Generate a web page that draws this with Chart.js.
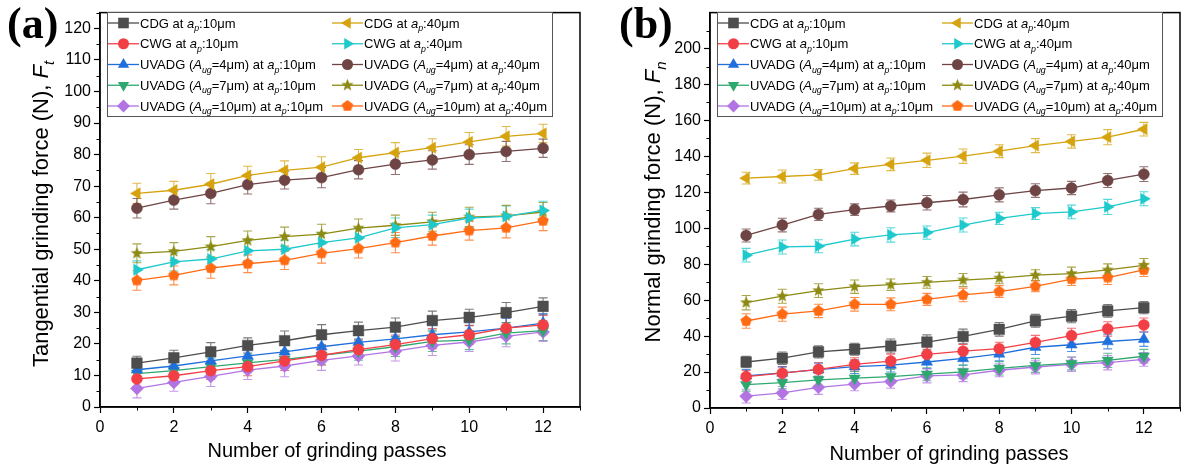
<!DOCTYPE html>
<html>
<head>
<meta charset="utf-8">
<script src="https://cdn.jsdelivr.net/npm/chart.js@4.4.1/dist/chart.umd.min.js"></script>
<style>
    body { margin: 0; background: #fff; width: 1201px; height: 468px; overflow: hidden; position: relative; }
    .panel { position: absolute; top: 0; height: 468px; }
    #wrapA { left: 0; width: 600px; }
    #wrapB { left: 600px; width: 601px; }
    .tag { position: absolute; top: -2px; font-family: "Liberation Serif", "Times New Roman", serif; font-weight: bold; font-size: 44px; line-height: 52px; }
</style>
</head>
<body>
<div class="panel" id="wrapA"><canvas id="chartA"></canvas></div>
<div class="panel" id="wrapB"><canvas id="chartB"></canvas></div>
<div class="tag" style="left:7px">(a)</div>
<div class="tag" style="left:619px">(b)</div>
<script>
// Grinding force vs number of passes

const FONT = '"Liberation Sans", Arial, sans-serif';

const passes = [1, 2, 3, 4, 5, 6, 7, 8, 9, 10, 11, 12];
const xTicks = [0, 2, 4, 6, 8, 10, 12];
const yTicksA = [0, 10, 20, 30, 40, 50, 60, 70, 80, 90, 100, 110, 120];
const yTicksB = [0, 20, 40, 60, 80, 100, 120, 140, 160, 180, 200];

// legend labels: [text, style]  style '' normal, 'i' italic, 's' italic subscript
const seriesLabels = [
    [['CDG at ', ''], ['a', 'i'], ['p', 's'], [':10\u03bcm', '']],
    [['CDG at ', ''], ['a', 'i'], ['p', 's'], [':40\u03bcm', '']],
    [['CWG at ', ''], ['a', 'i'], ['p', 's'], [':10\u03bcm', '']],
    [['CWG at ', ''], ['a', 'i'], ['p', 's'], [':40\u03bcm', '']],
    [['UVADG (', ''], ['A', 'i'], ['ug', 's'], ['=4\u03bcm) at ', ''], ['a', 'i'], ['p', 's'], [':10\u03bcm', '']],
    [['UVADG (', ''], ['A', 'i'], ['ug', 's'], ['=4\u03bcm) at ', ''], ['a', 'i'], ['p', 's'], [':40\u03bcm', '']],
    [['UVADG (', ''], ['A', 'i'], ['ug', 's'], ['=7\u03bcm) at ', ''], ['a', 'i'], ['p', 's'], [':10\u03bcm', '']],
    [['UVADG (', ''], ['A', 'i'], ['ug', 's'], ['=7\u03bcm) at ', ''], ['a', 'i'], ['p', 's'], [':40\u03bcm', '']],
    [['UVADG (', ''], ['A', 'i'], ['ug', 's'], ['=10\u03bcm) at ', ''], ['a', 'i'], ['p', 's'], [':10\u03bcm', '']],
    [['UVADG (', ''], ['A', 'i'], ['ug', 's'], ['=10\u03bcm) at ', ''], ['a', 'i'], ['p', 's'], [':40\u03bcm', '']]
];

const colors = ['#4d4d4d', '#d6a30f', '#f23f45', '#1ec9cc', '#1f6fdc', '#6e4444', '#2fa870', '#8c8a12', '#b274e2', '#ff6a12'];
const markers = ['rect', 'triangle', 'circle', 'triangle', 'triangle', 'circle', 'triangle', 'star', 'rectRot', 'pentagon'];
const rotations = [0, -90, 0, 90, 0, 0, 180, 0, 0, 0];
const radii = [7.5, 6.5, 5.5, 6.5, 6.5, 5.5, 6.5, 6.5, 6.5, 6];

// (a) tangential force, N
const tanCDG10 = [13.9, 15.6, 17.5, 19.5, 21.0, 22.9, 24.2, 25.3, 27.4, 28.4, 29.9, 31.9];
const tanCDG40 = [67.7, 68.7, 70.6, 73.4, 75.0, 76.0, 79.0, 80.6, 82.2, 84.0, 85.8, 86.7];
const tanCWG10 = [8.9, 9.9, 11.5, 12.8, 14.6, 16.4, 18.2, 19.8, 21.7, 22.9, 25.0, 26.0];
const tanCWG40 = [43.5, 46.0, 46.9, 49.5, 50.0, 52.1, 53.6, 56.8, 57.8, 59.9, 60.4, 62.3];
const tanU4_10 = [11.8, 13.0, 14.6, 16.2, 17.5, 19.1, 20.5, 21.6, 22.9, 23.8, 25.0, 26.6];
const tanU4_40 = [63.0, 65.6, 67.7, 70.5, 71.9, 72.7, 75.2, 77.0, 78.3, 80.0, 81.0, 82.0];
const tanU7_10 = [10.6, 11.5, 12.8, 14.0, 15.1, 16.4, 17.7, 19.1, 20.8, 21.2, 23.4, 24.2];
const tanU7_40 = [48.7, 49.3, 50.8, 52.8, 54.0, 54.8, 56.7, 57.6, 58.7, 60.2, 60.6, 61.8];
const tanU10_10 = [5.9, 7.8, 9.7, 11.7, 13.0, 14.8, 16.2, 17.7, 19.5, 20.6, 22.4, 23.8];
const tanU10_40 = [40.1, 41.7, 44.0, 45.4, 46.5, 48.7, 50.2, 52.1, 54.2, 55.9, 56.8, 59.0];

const tanErrCDG10 = [2.2, 2.4, 2.9, 2.4, 3.1, 3.2, 2.7, 2.9, 3.0, 2.6, 3.2, 2.7];
const tanErrCDG40 = [3.2, 2.8, 3.4, 2.9, 3.0, 3.3, 2.6, 3.2, 2.8, 3.0, 3.1, 2.9];
const tanErrCWG10 = [2.4, 2.6, 2.8, 2.9, 3.0, 3.1, 2.8, 3.0, 3.2, 3.0, 3.3, 3.1];
const tanErrCWG40 = [2.8, 2.9, 3.0, 3.1, 2.9, 3.2, 3.0, 3.1, 3.0, 2.8, 3.3, 2.9];
const tanErrU4_10 = [2.0, 2.2, 2.5, 2.6, 2.7, 2.8, 2.6, 2.8, 3.0, 2.9, 3.1, 3.0];
const tanErrU4_40 = [3.1, 2.9, 3.3, 3.0, 2.8, 3.2, 2.9, 3.3, 2.9, 3.1, 3.2, 2.9];
const tanErrU7_10 = [2.3, 2.5, 2.7, 2.8, 2.9, 3.0, 2.9, 3.1, 3.2, 3.0, 3.4, 3.1];
const tanErrU7_40 = [3.0, 2.8, 3.2, 3.0, 3.0, 3.1, 2.9, 3.2, 3.0, 3.1, 3.3, 3.0];
const tanErrU10_10 = [3.0, 2.8, 3.2, 3.0, 3.4, 3.2, 2.9, 3.1, 3.2, 3.0, 3.3, 3.0];
const tanErrU10_40 = [3.1, 3.0, 3.2, 2.8, 2.9, 3.1, 3.0, 3.2, 2.9, 3.0, 3.2, 3.1];

// (b) normal force, N
const norCDG10 = [25.6, 27.7, 31.2, 32.7, 34.5, 36.7, 39.8, 43.8, 48.5, 51.1, 54.0, 55.8];
const norCDG40 = [127.9, 128.8, 129.7, 133.2, 135.6, 137.8, 140.1, 142.9, 146.0, 148.3, 150.7, 155.1];
const norCWG10 = [17.5, 19.4, 21.5, 24.3, 26.1, 29.8, 31.6, 33.0, 36.5, 40.3, 44.0, 46.2];
const norCWG40 = [85.0, 89.6, 90.0, 94.0, 96.3, 97.6, 101.8, 105.5, 108.2, 109.1, 111.9, 116.4];
const norU4_10 = [17.9, 19.5, 21.3, 23.0, 23.9, 25.6, 27.6, 30.1, 33.8, 35.2, 37.0, 38.3];
const norU4_40 = [96.0, 101.8, 107.7, 110.4, 112.4, 114.2, 116.0, 118.6, 121.0, 122.4, 126.6, 130.1];
const norU7_10 = [13.0, 14.1, 15.7, 16.6, 17.5, 18.8, 20.1, 22.1, 23.7, 24.8, 26.5, 28.8];
const norU7_40 = [58.6, 62.2, 65.3, 67.5, 68.6, 69.9, 71.2, 72.3, 73.9, 74.8, 76.8, 79.4];
const norU10_10 = [6.6, 8.4, 11.5, 13.3, 14.8, 17.9, 18.4, 21.0, 22.8, 24.3, 25.2, 27.0];
const norU10_40 = [48.4, 52.2, 54.0, 57.7, 57.7, 60.4, 62.9, 64.8, 67.7, 71.7, 72.6, 76.8];

const norErrCDG10 = [3.2, 3.5, 3.4, 3.3, 3.9, 4.0, 4.1, 3.8, 3.6, 3.7, 3.5, 3.4];
const norErrCDG40 = [3.3, 3.6, 3.0, 3.2, 3.5, 4.0, 4.0, 3.6, 3.9, 3.7, 4.2, 3.8];
const norErrCWG10 = [3.4, 3.6, 3.8, 3.7, 3.9, 4.0, 3.8, 3.6, 3.9, 4.1, 4.0, 3.9];
const norErrCWG40 = [3.8, 3.9, 3.6, 3.8, 4.0, 3.7, 3.9, 3.4, 3.3, 3.8, 4.2, 3.9];
const norErrU4_10 = [3.5, 3.4, 3.6, 3.8, 3.9, 3.7, 3.8, 3.9, 4.0, 3.8, 4.1, 4.0];
const norErrU4_40 = [3.6, 3.8, 3.4, 3.2, 3.3, 4.0, 4.1, 3.9, 3.8, 3.7, 3.9, 4.1];
const norErrU7_10 = [3.6, 3.4, 3.5, 3.7, 3.9, 3.6, 3.8, 3.7, 3.9, 3.6, 4.0, 3.8];
const norErrU7_40 = [4.0, 3.9, 3.8, 3.7, 3.2, 3.3, 3.6, 3.2, 3.0, 3.6, 3.4, 3.8];
const norErrU10_10 = [3.8, 3.6, 3.9, 3.7, 3.8, 3.9, 3.7, 3.6, 3.8, 3.9, 4.0, 3.8];
const norErrU10_40 = [4.0, 3.9, 3.7, 3.8, 3.6, 3.4, 3.8, 3.3, 3.0, 3.5, 3.9, 3.6];

const tanValues = [tanCDG10, tanCDG40, tanCWG10, tanCWG40, tanU4_10, tanU4_40, tanU7_10, tanU7_40, tanU10_10, tanU10_40];
const tanErrors = [tanErrCDG10, tanErrCDG40, tanErrCWG10, tanErrCWG40, tanErrU4_10, tanErrU4_40, tanErrU7_10, tanErrU7_40, tanErrU10_10, tanErrU10_40];
const norValues = [norCDG10, norCDG40, norCWG10, norCWG40, norU4_10, norU4_40, norU7_10, norU7_40, norU10_10, norU10_40];
const norErrors = [norErrCDG10, norErrCDG40, norErrCWG10, norErrCWG40, norErrU4_10, norErrU4_40, norErrU7_10, norErrU7_40, norErrU10_10, norErrU10_40];

// filled star / pentagon markers (Chart.js has no filled ones)
function makeShape(kind, color, r) {
    const c = document.createElement('canvas');
    const s = Math.ceil(r * 2 + 2);
    c.width = s; c.height = s;
    const g = c.getContext('2d');
    g.translate(s / 2, s / 2);
    g.beginPath();
    const n = kind === 'star' ? 10 : 5;
    for (let k = 0; k < n; k++) {
        const a = -Math.PI / 2 + k * 2 * Math.PI / n;
        const rr = (kind === 'star' && k % 2) ? r * 0.42 : r;
        g.lineTo(Math.cos(a) * rr, Math.sin(a) * rr);
    }
    g.closePath();
    g.fillStyle = color;
    g.fill();
    return c;
}

function pointStyleFor(i) {
    const m = markers[i];
    if (m === 'star' || m === 'pentagon') return makeShape(m, colors[i], radii[i]);
    return m;
}

function labelText(i) {
    return seriesLabels[i].map(s => s[0]).join('');
}

function buildDatasets(values, errors) {
    return values.map((vals, i) => ({
        label: labelText(i),
        data: passes.map((x, k) => ({ x: x, y: vals[k] })),
        errors: errors[i],
        borderColor: colors[i],
        backgroundColor: colors[i],
        borderWidth: 1.3,
        pointStyle: pointStyleFor(i),
        pointRotation: rotations[i],
        pointRadius: radii[i],
        pointHoverRadius: radii[i],
        pointBorderWidth: 0.5,
        tension: 0
    }));
}

function fontStr(style, size) {
    return (style === 'i' || style === 's' ? 'italic ' : '') + size + 'px ' + FONT;
}

// text with italic parts and subscripts, drawn from x (left) on baseline y
function drawRich(ctx, segs, x, y, size) {
    let cx = x;
    segs.forEach(([txt, st]) => {
        const sz = st === 's' ? size * 0.68 : size;
        ctx.font = fontStr(st, sz);
        ctx.fillText(txt, cx, st === 's' ? y + size * 0.28 : y);
        cx += ctx.measureText(txt).width;
    });
    return cx - x;
}

function richWidth(ctx, segs, size) {
    let w = 0;
    segs.forEach(([txt, st]) => {
        ctx.font = fontStr(st, st === 's' ? size * 0.68 : size);
        w += ctx.measureText(txt).width;
    });
    return w;
}

const decorPlugin = {
    id: 'decor',
    beforeDatasetsDraw(chart, args, opts) {
        const ctx = chart.ctx;
        const xs = chart.scales.x, ys = chart.scales.y;
        ctx.save();
        chart.data.datasets.forEach((ds, i) => {
            ctx.strokeStyle = ds.borderColor;
            ctx.globalAlpha = 0.75;
            ctx.lineWidth = 1.1;
            ds.data.forEach((p, k) => {
                const e = ds.errors[k];
                const px = xs.getPixelForValue(p.x);
                const top = ys.getPixelForValue(p.y + e);
                const bot = ys.getPixelForValue(p.y - e);
                ctx.beginPath();
                ctx.moveTo(px, top); ctx.lineTo(px, bot);
                ctx.moveTo(px - 4.5, top); ctx.lineTo(px + 4.5, top);
                ctx.moveTo(px - 4.5, bot); ctx.lineTo(px + 4.5, bot);
                ctx.stroke();
            });
        });
        ctx.restore();
    },
    afterDraw(chart, args, opts) {
        const ctx = chart.ctx;
        const area = chart.chartArea;
        const xs = chart.scales.x, ys = chart.scales.y;
        ctx.save();
        ctx.strokeStyle = '#000';
        ctx.lineWidth = 1.5;
        ctx.strokeRect(area.left, area.top, area.right - area.left, area.bottom - area.top);

        // minor ticks
        ctx.lineWidth = 1;
        ctx.beginPath();
        for (let v = 1; v <= xs.max; v += 2) {
            const px = Math.round(xs.getPixelForValue(v)) + 0.5;
            ctx.moveTo(px, area.bottom); ctx.lineTo(px, area.bottom + 3.5);
        }
        for (let v = opts.yMinor; v <= ys.max; v += opts.yMinor * 2) {
            const py = Math.round(ys.getPixelForValue(v)) + 0.5;
            ctx.moveTo(area.left, py); ctx.lineTo(area.left - 3.5, py);
        }
        ctx.stroke();

        // axis titles
        ctx.fillStyle = '#000';
        ctx.textBaseline = 'alphabetic';
        ctx.font = '20px ' + FONT;
        ctx.textAlign = 'center';
        ctx.fillText('Number of grinding passes', opts.xTitleX, opts.xTitleY);
        ctx.textAlign = 'left';
        const yw = richWidth(ctx, opts.yTitle, 22);
        ctx.save();
        ctx.translate(opts.yTitleX, opts.yTitleY);
        ctx.rotate(-Math.PI / 2);
        drawRich(ctx, opts.yTitle, -yw / 2, 8, 22);
        ctx.restore();

        // legend
        const L = area.left + 7, T = 12, W = 445, H = 104;
        ctx.fillStyle = '#fff';
        ctx.fillRect(L, T, W, H);
        ctx.strokeStyle = '#555';
        ctx.lineWidth = 1;
        ctx.strokeRect(L + 0.5, T + 0.5, W, H);
        chart.data.datasets.forEach((ds, i) => {
            const row = Math.floor(i / 2), col = i % 2;
            const cy = T + 11 + row * 20.75;
            const lx = L + 1 + col * 224;
            ctx.strokeStyle = ds.borderColor;
            ctx.lineWidth = 1.3;
            ctx.beginPath();
            ctx.moveTo(lx, cy); ctx.lineTo(lx + 31, cy);
            ctx.stroke();
            ctx.fillStyle = ds.backgroundColor;
            Chart.helpers.drawPoint(ctx, {
                pointStyle: ds.pointStyle, rotation: ds.pointRotation,
                radius: ds.pointRadius, borderWidth: 0
            }, lx + 15.5, cy);
            ctx.fillStyle = '#000';
            drawRich(ctx, seriesLabels[i], lx + 32, cy + 4.5, 13);
        });
        ctx.restore();
    }
};

function makeChart(id, values, errors, cfg) {
    const tickFont = { family: FONT, size: 16 };
    return new Chart(document.getElementById(id), {
        type: 'line',
        data: { datasets: buildDatasets(values, errors) },
        plugins: [decorPlugin],
        options: {
            responsive: true,
            maintainAspectRatio: false,
            animation: false,
            events: [],
            layout: { padding: { left: 0, right: cfg.padRight, top: 5, bottom: 0 } },
            scales: {
                x: {
                    type: 'linear', min: 0, max: 13,
                    afterBuildTicks: s => { s.ticks = xTicks.map(v => ({ value: v })); },
                    afterFit: s => { s.height = cfg.xHeight; },
                    grid: { drawOnChartArea: false, tickLength: 6, tickWidth: 1.2, tickColor: '#000' },
                    border: { color: '#000', width: 1.5 },
                    ticks: { color: '#000', font: tickFont, padding: 5, maxRotation: 0, autoSkip: false }
                },
                y: {
                    type: 'linear', min: 0, max: cfg.yMax,
                    afterBuildTicks: s => { s.ticks = cfg.yTicks.map(v => ({ value: v })); },
                    afterFit: s => { s.width = cfg.yWidth; },
                    grid: { drawOnChartArea: false, tickLength: 6, tickWidth: 1.2, tickColor: '#000' },
                    border: { color: '#000', width: 1.5 },
                    ticks: { color: '#000', font: tickFont, padding: 3, autoSkip: false }
                }
            },
            plugins: {
                legend: { display: false },
                tooltip: { enabled: false },
                decor: {
                    yMinor: cfg.yMinor,
                    yTitle: cfg.yTitle,
                    yTitleX: cfg.yTitleX, yTitleY: cfg.yTitleY,
                    xTitleX: cfg.xTitleX, xTitleY: cfg.xTitleY
                }
            }
        }
    });
}

makeChart('chartA', tanValues, tanErrors, {
    padRight: 20, xHeight: 61, yWidth: 100, yMax: 125, yTicks: yTicksA, yMinor: 5,
    yTitle: [['Tangential grinding force (N), ', ''], ['F', 'i'], ['t', 's']],
    yTitleX: 40, yTitleY: 214, xTitleX: 327, xTitleY: 457
});

makeChart('chartB', norValues, norErrors, {
    padRight: 21, xHeight: 60, yWidth: 110, yMax: 220, yTicks: yTicksB, yMinor: 10,
    yTitle: [['Normal grinding force (N), ', ''], ['F', 'i'], ['n', 's']],
    yTitleX: 52, yTitleY: 202, xTitleX: 349, xTitleY: 460
});
</script>
</body>
</html>
